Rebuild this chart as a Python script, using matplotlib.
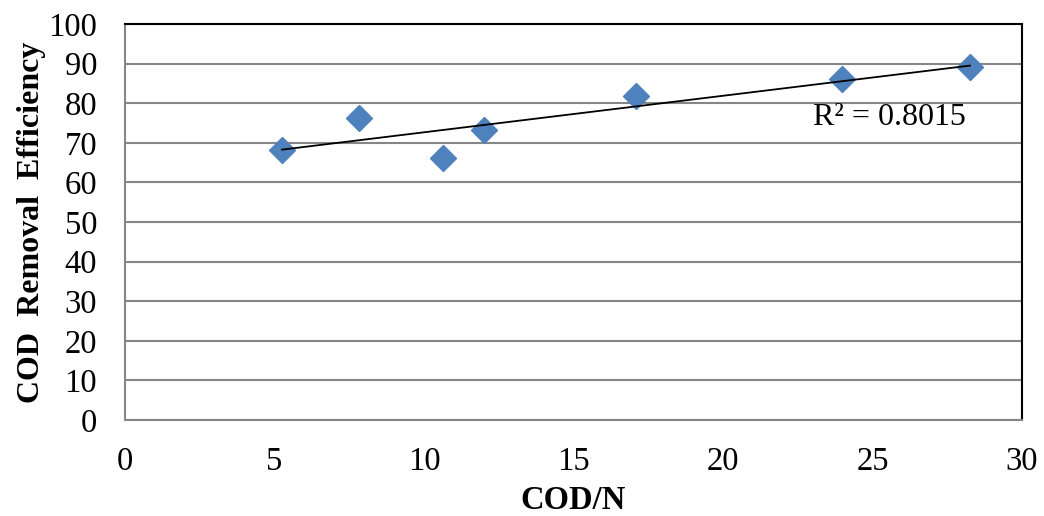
import numpy as np
import matplotlib
matplotlib.use("Agg")
import matplotlib.pyplot as plt

cod_n = [5.25, 7.83, 10.64, 12.0, 17.09, 23.98, 28.26]
removal = [68.2, 76.3, 66.2, 73.2, 81.8, 86.1, 89.1]
r2_label = "R² = 0.8015"
x_ticks = [0, 5, 10, 15, 20, 25, 30]
y_ticks = [0, 10, 20, 30, 40, 50, 60, 70, 80, 90, 100]

plt.rcParams['font.family'] = ['Liberation Serif', 'DejaVu Serif']

fig = plt.figure(figsize=(10.44, 5.16), dpi=100)
ax = fig.add_axes([125/1044, 1-420/516, (1022-125)/1044, (420-24)/516])

ax.set_xlim(0, 30)
ax.set_ylim(0, 100)
ax.set_xticks(x_ticks)
ax.set_yticks(y_ticks)
ax.yaxis.grid(True, color='#868686', linewidth=1.5)
ax.set_axisbelow(True)

ax.plot(cod_n, removal, linestyle='none', marker='D', markersize=13,
        color='#4F81BD', zorder=3)
coef = np.polyfit(cod_n, removal, 1)
xs = np.array([min(cod_n), max(cod_n)])
ax.plot(xs, np.polyval(coef, xs), color='black', linewidth=1.3, zorder=4)

ax.text(23.0, 76.5, r2_label, fontsize=23, ha='left', va='center')

for s in ['left', 'bottom']:
    ax.spines[s].set_color('#868686')
    ax.spines[s].set_linewidth(1.5)
for s in ['top', 'right']:
    ax.spines[s].set_color('black')
    ax.spines[s].set_linewidth(1.5)

ax.tick_params(axis='both', length=0, labelsize=23.5)
ax.tick_params(axis='x', pad=19)
ax.tick_params(axis='y', pad=20)

ax.set_xlabel('COD/N', fontsize=23.5, fontweight='bold', labelpad=6)
ax.set_ylabel('COD  Removal  Efficiency', fontsize=23, fontweight='bold', labelpad=2)

fig.savefig('out.png', dpi=100)
